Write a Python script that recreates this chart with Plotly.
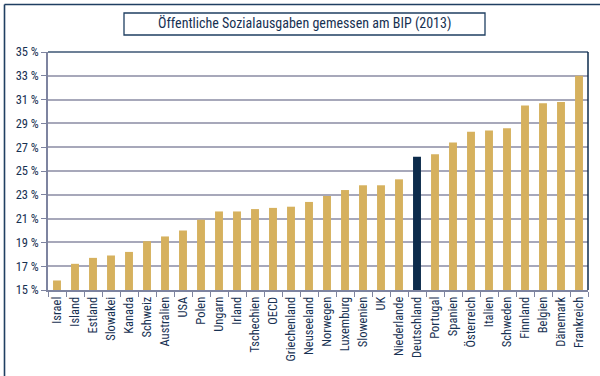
import plotly.graph_objects as go

countries = ["Israel", "Island", "Estland", "Slowakei", "Kanada", "Schweiz", "Australien", "USA",
             "Polen", "Ungarn", "Irland", "Tschechien", "OECD", "Griechenland", "Neuseeland",
             "Norwegen", "Luxemburg", "Slowenien", "UK", "Niederlande", "Deutschland", "Portugal",
             "Spanien", "Österreich", "Italien", "Schweden", "Finnland", "Belgien", "Dänemark",
             "Frankreich"]
values = [15.8, 17.2, 17.7, 17.9, 18.2, 19.1, 19.5, 20.0,
          20.9, 21.6, 21.6, 21.8, 21.9, 22.0, 22.4,
          22.9, 23.4, 23.8, 23.8, 24.3, 26.2, 26.4,
          27.4, 28.3, 28.4, 28.6, 30.5, 30.7, 30.8,
          33.0]
highlight = "Deutschland"
y_ticks = [15, 17, 19, 21, 23, 25, 27, 29, 31, 33, 35]
title_text = "Öffentliche Sozialausgaben gemessen am BIP (2013)"

GOLD = "#D6B15E"
NAVY = "#0C2B4B"
TEXT = "#173152"
GRID = "#A7A8BA"
AXIS = "#7E84A0"
FONT = "Liberation Sans Narrow, Roboto Condensed, Roboto, sans-serif"

colors = [NAVY if c == highlight else GOLD for c in countries]

fig = go.Figure()
fig.add_trace(go.Bar(x=countries, y=[v - 15 for v in values], base=15,
                     marker=dict(color=colors, line=dict(width=0)),
                     hoverinfo="skip"))

W, H = 600, 376
L, R, T, B = 48, 12, 52, 86
pw, ph = W - L - R, H - T - B

def px(x):
    return (x - L) / pw

def py(y):
    return (H - B - y) / ph

shapes = [
    # outer frame (top and left)
    dict(type="line", xref="paper", yref="paper", x0=px(4.5), x1=px(600), y0=py(4.5), y1=py(4.5),
         line=dict(color="#1F3F62", width=1.6)),
    dict(type="line", xref="paper", yref="paper", x0=px(4.5), x1=px(4.5), y0=py(4.5), y1=py(376),
         line=dict(color="#1F3F62", width=1.6)),
    # title box
    dict(type="rect", xref="paper", yref="paper", x0=px(124), x1=px(485), y0=py(35), y1=py(13),
         line=dict(color="#1F3F62", width=1.3)),
    # plot area top and right border
    dict(type="line", xref="paper", yref="paper", x0=0, x1=1, y0=1, y1=1,
         line=dict(color="#3D5674", width=1.5)),
    dict(type="line", xref="paper", yref="paper", x0=1, x1=1, y0=0, y1=1,
         line=dict(color=NAVY, width=1.5)),
]

fig.update_layout(
    width=W, height=H,
    margin=dict(l=L, r=R, t=T, b=B),
    paper_bgcolor="white", plot_bgcolor="white",
    showlegend=False,
    bargap=0.56,
    font=dict(family=FONT, color=TEXT, size=12),
    shapes=shapes,
    annotations=[dict(text=title_text, xref="paper", yref="paper", x=px(304.5), y=py(24),
                      xanchor="center", yanchor="middle", showarrow=False,
                      font=dict(family=FONT, size=14, color=TEXT))],
    xaxis=dict(type="category", tickangle=-90, showgrid=False,
               showline=True, linecolor=AXIS, linewidth=1.5,
               ticks="outside", tickson="boundaries", ticklen=5, tickcolor=AXIS, tickwidth=1,
               tickfont=dict(family=FONT, size=12.5, color=TEXT)),
    yaxis=dict(range=[15, 35], tickvals=y_ticks, ticktext=[f"{t} %" for t in y_ticks],
               showgrid=True, gridcolor=GRID, gridwidth=1.5,
               showline=True, linecolor=AXIS, linewidth=1.5,
               ticks="outside", ticklen=5, tickcolor=AXIS,
               zeroline=False,
               tickfont=dict(family=FONT, size=12.5, color=TEXT)),
)

fig.write_html("out.html")
